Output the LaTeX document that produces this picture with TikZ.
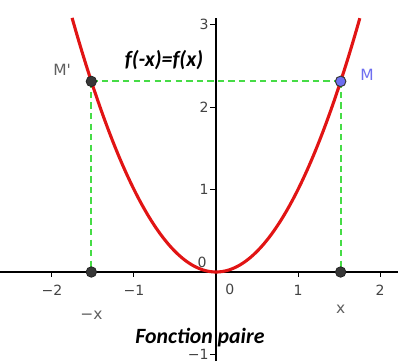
\documentclass[tikz,border=0pt]{standalone}
\usepackage{fontspec}
\setmainfont{DejaVu Sans}
\newfontfamily\carlito{Carlito}
\usetikzlibrary{positioning}
\definecolor{ggbRed}{RGB}{225,20,20}
\definecolor{ggbGreen}{RGB}{70,220,70}
\definecolor{ggbBlue}{RGB}{110,110,240}
\definecolor{ggbDot}{RGB}{55,55,55}
\definecolor{ggbText}{RGB}{95,95,95}

\begin{document}
\begin{tikzpicture}[
        x=2.05cm,
        y=2.0625cm,
        axis/.style={line width=0.9pt, black},
        tick/.style={line width=0.7pt, black},
        ticklabel/.style={font=\fontsize{10}{11}\selectfont, text=ggbText!70!black, inner sep=1pt},
        graph/.style={line width=2.2pt, ggbRed},
        guide/.style={line width=1.4pt, ggbGreen, dash pattern=on 4.5pt off 3pt},
        dotGray/.style={circle, fill=ggbDot, draw=ggbDot!60!black, line width=0.5pt, minimum size=7.5pt, inner sep=0pt},
        dotBlue/.style={circle, fill=ggbBlue, draw=ggbDot, line width=0.7pt, minimum size=7.5pt, inner sep=0pt},
        ptlabel/.style={font=\fontsize{11}{13}\selectfont, inner sep=1pt},
        caption/.style={font=\carlito\bfseries\itshape\fontsize{15.5}{18}\selectfont, inner sep=1pt}
    ]
        \useasboundingbox (-2.634,-1.079) rectangle (2.244,3.297);

        % axes
        \coordinate (xmin) at (-2.63,0);
        \coordinate (xmax) at (2.22,0);
        \coordinate (ymin) at (0,-1.08);
        \coordinate (ymax) at (0,3.08);
        \draw[axis] (xmin) -- (xmax);
        \draw[axis] (ymin) -- (ymax);

        \foreach \x/\lab in {-2/−2,-1/−1,1/1,2/2} {
            \draw[tick] (\x,0) -- (\x,-0.06);
            \node[ticklabel] at (\x,-0.22) {\lab};
        }
        \foreach \y/\lab in {-1/−1,1/1,2/2,3/3} {
            \draw[tick] (0,\y) -- (-0.07,\y);
            \node[ticklabel, anchor=east] at (-0.07,\y) {\lab};
        }
        \node[ticklabel] (zeroX) at (0.17,-0.21) {0};
        \node[ticklabel] (zeroY) at (-0.17,0.12) {0};

        % points of the even function
        \coordinate (pMp) at (-1.52,2.3104);
        \coordinate (pM) at (1.52,2.3104);
        \coordinate (pHp) at (-1.52,0);
        \coordinate (pH) at (1.52,0);

        \draw[guide] (pMp) -- (pM);
        \draw[guide] (pMp) -- (pHp);
        \draw[guide] (pM) -- (pH);

        \draw[graph, domain=-1.755:1.755, samples=80, smooth] plot (\x,{\x*\x});

        \node[dotGray] (Mp) at (pMp) {};
        \node[dotBlue] (M) at (pM) {};
        \node[dotGray] (Hp) at (pHp) {};
        \node[dotGray] (H) at (pH) {};

        \node[ptlabel, text=ggbText] (labMp) at ([shift={(-0.73cm,0.285cm)}]Mp.center) {M\textquotesingle};
        \node[ptlabel, text=ggbBlue] (labM) at ([shift={(0.66cm,0.16cm)}]M.center) {M};
        \node[ptlabel, text=ggbText] (labHp) at ([shift={(0cm,-1.075cm)}]Hp.center) {−x};
        \node[ptlabel, text=ggbText] (labH) at ([shift={(0cm,-0.925cm)}]H.center) {x};

        \node[caption] (eq) at (-0.634,2.57) {f(-x)=f(x)};
        \node[caption] (title) at (-0.195,-0.8) {Fonction paire};
    \end{tikzpicture}
\end{document}
